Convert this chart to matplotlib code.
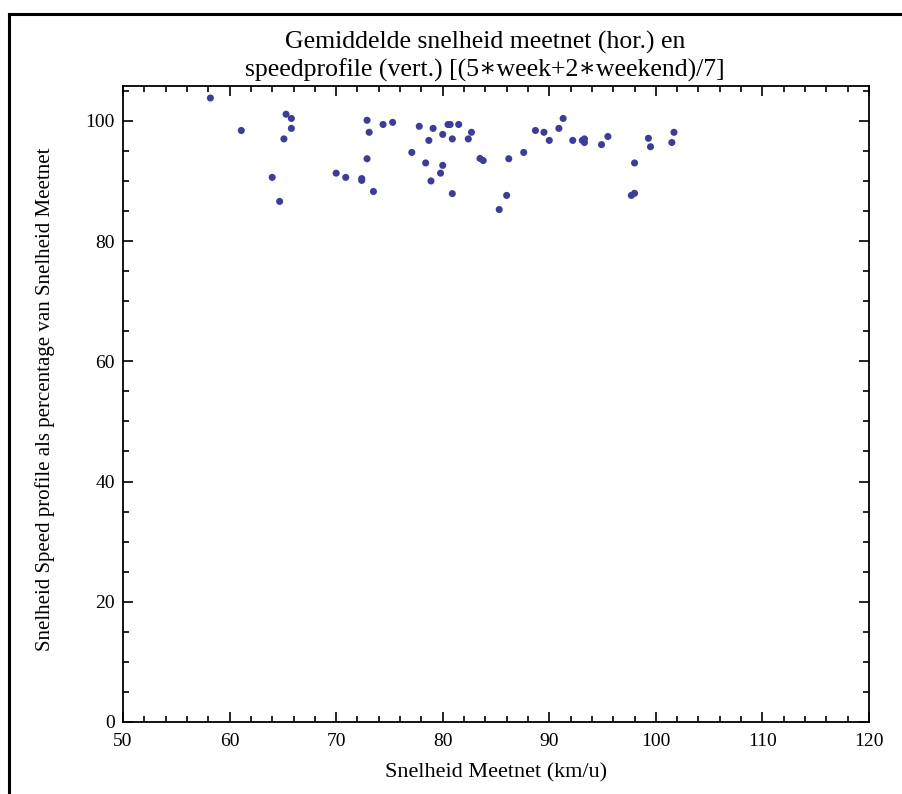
import matplotlib
matplotlib.use("Agg")
import matplotlib.pyplot as plt
from matplotlib.ticker import MultipleLocator
from matplotlib.lines import Line2D

# Data: (speed meetnet km/u, speed profile as % of meetnet)
speed_meetnet = [
    58.2, 61.1, 65.3, 65.8, 65.8, 65.1, 64.0, 64.7,
    72.9, 74.4, 75.3, 77.8, 73.1, 72.9, 77.1, 70.0, 70.9, 72.4, 72.4, 73.5,
    79.1, 78.7, 80.5, 80.7, 81.5, 80.0, 80.9, 82.7, 82.4, 78.4, 80.0, 79.8,
    78.9, 80.9, 83.5, 83.8, 86.2, 87.6, 86.0, 85.3,
    88.7, 89.5, 90.0, 90.9, 91.3, 92.2, 93.1, 93.3, 93.3, 94.9, 95.5,
    99.3, 99.5, 101.7, 101.5, 98.0, 97.7, 98.0,
]
profile_pct = [
    103.8, 98.4, 101.1, 100.4, 98.75, 97.0, 90.6, 86.6,
    100.1, 99.4, 99.75, 99.1, 98.1, 93.7, 94.75, 91.3, 90.6, 90.4, 90.1, 88.25,
    98.75, 96.75, 99.4, 99.4, 99.4, 97.75, 97.0, 98.1, 97.0, 93.0, 92.6, 91.3,
    90.0, 87.9, 93.75, 93.4, 93.7, 94.75, 87.6, 85.25,
    98.4, 98.1, 96.75, 98.75, 100.4, 96.75, 96.75, 97.0, 96.4, 96.05, 97.4,
    97.1, 95.7, 98.1, 96.4, 93.0, 87.6, 87.95,
]

title_lines = ["Gemiddelde snelheid meetnet (hor.) en",
               "speedprofile (vert.) [(5\u2217week+2\u2217weekend)/7]"]
xlabel = "Snelheid Meetnet (km/u)"
ylabel = "Snelheid Speed profile als percentage van Snelheid Meetnet"

serif = ["Liberation Serif", "DejaVu Serif"]
plt.rcParams["font.family"] = serif

W, H = 903, 794
fig = plt.figure(figsize=(W / 100, H / 100), dpi=100)
ax = fig.add_axes([123 / W, 1 - 722 / H, (869 - 123) / W, (722 - 86) / H])

ax.scatter(speed_meetnet, profile_pct, s=26, color="#3d3d99", edgecolors="none", zorder=3)

ax.set_xlim(50, 120)
ax.set_ylim(0, 105.8)
ax.xaxis.set_major_locator(MultipleLocator(10))
ax.xaxis.set_minor_locator(MultipleLocator(2))
ax.yaxis.set_major_locator(MultipleLocator(20))
ax.yaxis.set_minor_locator(MultipleLocator(5))
ax.tick_params(which="both", direction="in", top=True, right=True, width=1.2, colors="black",
               labelsize=14)
ax.tick_params(axis="x", which="major", pad=8)
ax.tick_params(axis="y", which="major", pad=6)
ax.tick_params(which="major", length=7)
ax.tick_params(which="minor", length=4)
for sp in ax.spines.values():
    sp.set_linewidth(1.3)

ax.set_xlabel(xlabel, fontsize=16, va="center")
ax.xaxis.set_label_coords(0.5, (722 - 773) / 636)
ax.set_ylabel(ylabel, fontsize=15, va="center")
ax.yaxis.set_label_coords((45 - 123) / 746, (722 - 399) / 636)

fig.text(485 / W, 1 - 42 / H, title_lines[0], ha="center", va="center", fontsize=18.5)
fig.text(485 / W, 1 - 70 / H, title_lines[1], ha="center", va="center", fontsize=18.5)

# outer frame (left and top edges)
fig.add_artist(Line2D([9.5 / W, 9.5 / W], [0, 1 - 14 / H], transform=fig.transFigure,
                      color="black", linewidth=2.2))
fig.add_artist(Line2D([9.5 / W, 1], [1 - 14 / H, 1 - 14 / H], transform=fig.transFigure,
                      color="black", linewidth=2.2))

fig.savefig("out.png", dpi=100)
